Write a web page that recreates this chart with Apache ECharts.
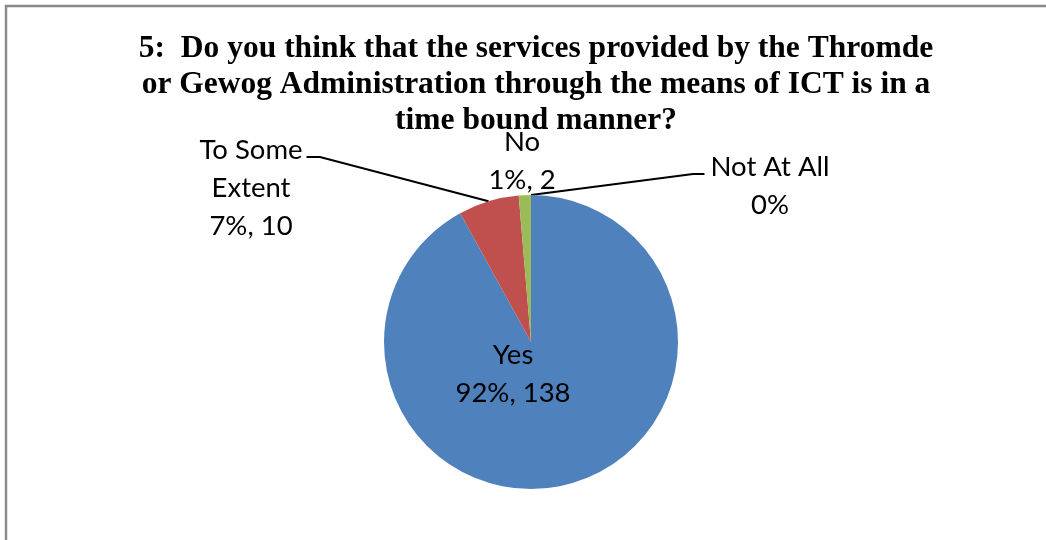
<!DOCTYPE html>
<html>
<head>
<meta charset="utf-8">
<style>
  html, body { margin: 0; padding: 0; background: #fff; }
  #chart { width: 1046px; height: 540px; }
</style>
<script src="https://cdn.jsdelivr.net/npm/echarts@6/dist/echarts.min.js"></script>
</head>
<body>
<div id="chart"></div>
<script>
// Survey answers and response counts
const categories = ['Yes', 'To Some Extent', 'No', 'Not At All'];
const counts = [138, 10, 2, 0];
const labelNames = ['Yes', 'To Some\nExtent', 'No', 'Not At All'];
const colors = ['#4F81BD', '#C0504D', '#9BBB59', '#8064A2'];

const titleText = '5:  Do you think that the services provided by the Thromde\n' +
  'or Gewog Administration through the means of ICT is in a\n' +
  'time bound manner?';

// Pie geometry
const CX = 531, CY = 342, R = 147;

// Label anchors (text centre) and whether a leader line is drawn
const labelPlacement = [
  { x: 513, y: 374, line: false },
  { x: 251, y: 188, line: true, elbow: 320, side: 'left' },
  { x: 522, y: 161, line: false },
  { x: 770, y: 186, line: true, elbow: 693, side: 'right' }
];

// Mid-angle point on the rim for each slice (clockwise from 12 o'clock)
const total = counts.reduce((a, b) => a + b, 0);
const rimPoints = [];
let acc = 0;
counts.forEach(v => {
  const mid = (acc + v / 2) / total * Math.PI * 2;
  rimPoints.push([CX + R * Math.sin(mid), CY - R * Math.cos(mid)]);
  acc += v;
});

const chart = echarts.init(document.getElementById('chart'));

chart.setOption({
  animation: false,
  backgroundColor: '#fff',
  title: {
    text: titleText,
    left: 531,
    top: 26,
    textAlign: 'center',
    textStyle: {
      fontFamily: 'Liberation Serif',
      fontWeight: 'bold',
      fontSize: 31.5,
      lineHeight: 36,
      color: '#000'
    }
  },
  graphic: [{
    type: 'rect',
    shape: { x: 6, y: 6, width: 1200, height: 700 },
    style: { fill: 'none', stroke: '#8a8a8a', lineWidth: 2.5 },
    silent: true
  }],
  series: [{
    type: 'pie',
    center: [CX, CY],
    radius: R,
    startAngle: 90,
    clockwise: true,
    minShowLabelAngle: 0,
    data: categories.map((name, i) => ({
      name: name,
      value: counts[i],
      itemStyle: { color: colors[i] }
    })),
    label: {
      show: true,
      position: 'outside',
      fontFamily: 'Lato',
      fontSize: 27.5,
      lineHeight: 38,
      color: '#000',
      align: 'center',
      formatter: function (p) {
        const pct = Math.round(p.percent) + '%';
        const tail = p.value > 0 ? pct + ', ' + p.value : pct;
        return labelNames[p.dataIndex] + '\n' + tail;
      }
    },
    labelLine: {
      show: true,
      lineStyle: { color: '#000', width: 2 }
    },
    labelLayout: function (params) {
      const i = params.dataIndex;
      const pl = labelPlacement[i];
      const out = { x: pl.x, y: pl.y, align: 'center', verticalAlign: 'middle' };
      if (pl.line) {
        const rim = rimPoints[i];
        const rect = params.labelRect;
        const edgeX = pl.side === 'left' ? pl.x + rect.width / 2 + 4 : pl.x - rect.width / 2 - 6;
        const lineY = pl.y - rect.height / 2 + 19 + 7;
        out.labelLinePoints = [rim, [pl.elbow, lineY], [edgeX, lineY]];
      } else {
        out.labelLinePoints = [[pl.x, pl.y], [pl.x, pl.y], [pl.x, pl.y]];
      }
      return out;
    },
    emphasis: { disabled: true }
  }]
});
</script>
</body>
</html>
